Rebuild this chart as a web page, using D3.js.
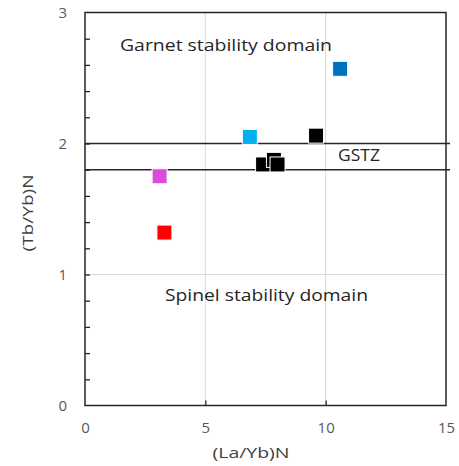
<!DOCTYPE html>
<html>
<head>
<meta charset="utf-8">
<script src="https://cdn.jsdelivr.net/npm/d3@7"></script>
<style>
  body { margin: 0; background: #fff; }
  text { font-family: "Open Sans", "Noto Sans", sans-serif; }
  .tick-label { fill: #595959; font-size: 15px; }
  .note { fill: #262626; font-size: 16px; }
  .axis-title { fill: #404040; font-size: 15px; }
</style>
</head>
<body>
<div id="chart"></div>
<script>
// Samples: (La/Yb)N vs (Tb/Yb)N
const laYb = [3.1, 3.3, 6.85, 10.6, 9.6, 7.4, 7.85, 8.0];
const tbYb = [1.75, 1.32, 2.05, 2.57, 2.06, 1.84, 1.875, 1.84];
const pointColors = ["#db4cdb", "#ff0000", "#00b0f0", "#0070c0", "#000000", "#000000", "#000000", "#000000"];

// GSTZ boundaries
const boundaries = [2.0, 1.8];

const xTicks = [0, 5, 10, 15];
const yTicks = [0, 1, 2, 3];

const W = 459, H = 466;
const margin = { left: 85, right: 13, top: 12.5, bottom: 60.5 };
const width = W - margin.left - margin.right;
const height = H - margin.top - margin.bottom;

const svg = d3.select("#chart").append("svg")
  .attr("width", W).attr("height", H);
const g = svg.append("g")
  .attr("transform", `translate(${margin.left},${margin.top})`);

const x = d3.scaleLinear().domain([0, 15]).range([0, width]);
const y = d3.scaleLinear().domain([0, 3]).range([height, 0]);

// gridlines
g.append("g").selectAll("line").data([5, 10]).join("line")
  .attr("x1", d => x(d)).attr("x2", d => x(d))
  .attr("y1", 0).attr("y2", height)
  .attr("stroke", "#d9d9d9").attr("stroke-width", 1);
g.append("g").selectAll("line").data([1, 2]).join("line")
  .attr("x1", 0).attr("x2", width)
  .attr("y1", d => y(d)).attr("y2", d => y(d))
  .attr("stroke", "#d9d9d9").attr("stroke-width", 1);

// minor ticks on y axis (inward)
const minor = d3.range(0.2, 3, 0.2);
g.append("g").call(d3.axisLeft(y).tickValues(minor).tickSize(-5).tickFormat(""))
  .call(a => a.select(".domain").remove())
  .selectAll("line").attr("stroke", "#262626").attr("stroke-width", 1.3);

// x ticks (inward)
g.append("g").attr("transform", `translate(0,${height})`)
  .call(d3.axisBottom(x).tickValues([5, 10]).tickSize(-5).tickFormat(""))
  .call(a => a.select(".domain").remove())
  .selectAll("line").attr("stroke", "#262626").attr("stroke-width", 1.3);

// tick labels
g.append("g").attr("transform", `translate(0,${height})`)
  .call(d3.axisBottom(x).tickValues(xTicks).tickSize(0).tickPadding(17).tickFormat(d3.format("d")))
  .call(a => a.select(".domain").remove())
  .selectAll("text").attr("class", "tick-label").attr("font-size", null).attr("font-family", null);
g.append("g")
  .call(d3.axisLeft(y).tickValues(yTicks).tickSize(0).tickPadding(18).tickFormat(d3.format("d")))
  .call(a => a.select(".domain").remove())
  .selectAll("text").attr("class", "tick-label").attr("font-size", null).attr("font-family", null);

// frame
g.append("rect")
  .attr("x", 0).attr("y", 0).attr("width", width).attr("height", height)
  .attr("fill", "none").attr("stroke", "#262626").attr("stroke-width", 1.5);

// boundary lines
g.append("g").selectAll("line").data(boundaries).join("line")
  .attr("x1", x(0)).attr("x2", x(15) + 4)
  .attr("y1", d => y(d)).attr("y2", d => y(d))
  .attr("stroke", "#262626").attr("stroke-width", 1.5);

// points
const s = 15;
g.append("g").selectAll("rect").data(laYb).join("rect")
  .attr("x", d => x(d) - s / 2)
  .attr("y", (d, i) => y(tbYb[i]) - s / 2)
  .attr("width", s).attr("height", s)
  .attr("fill", (d, i) => pointColors[i])
  .attr("stroke", "#ffffff").attr("stroke-width", 1);

// annotations
g.append("text").attr("class", "note")
  .attr("x", 120 - margin.left).attr("y", 45 - margin.top).attr("dy", "0.35em")
  .attr("textLength", 212).attr("lengthAdjust", "spacingAndGlyphs")
  .text("Garnet stability domain");
g.append("text").attr("class", "note")
  .attr("x", 338 - margin.left).attr("y", 155 - margin.top).attr("dy", "0.35em")
  .attr("textLength", 42).attr("lengthAdjust", "spacingAndGlyphs")
  .text("GSTZ");
g.append("text").attr("class", "note")
  .attr("x", 165 - margin.left).attr("y", 295 - margin.top).attr("dy", "0.35em")
  .attr("textLength", 203).attr("lengthAdjust", "spacingAndGlyphs")
  .text("Spinel stability domain");

// axis titles
svg.append("text").attr("class", "axis-title")
  .attr("x", 251).attr("y", 453).attr("dy", "0.35em")
  .attr("text-anchor", "middle")
  .attr("textLength", 77).attr("lengthAdjust", "spacingAndGlyphs")
  .text("(La/Yb)N");
svg.append("text").attr("class", "axis-title")
  .attr("transform", "translate(28,213) rotate(-90)")
  .attr("dy", "0.35em")
  .attr("text-anchor", "middle")
  .attr("textLength", 77).attr("lengthAdjust", "spacingAndGlyphs")
  .text("(Tb/Yb)N");
</script>
</body>
</html>
